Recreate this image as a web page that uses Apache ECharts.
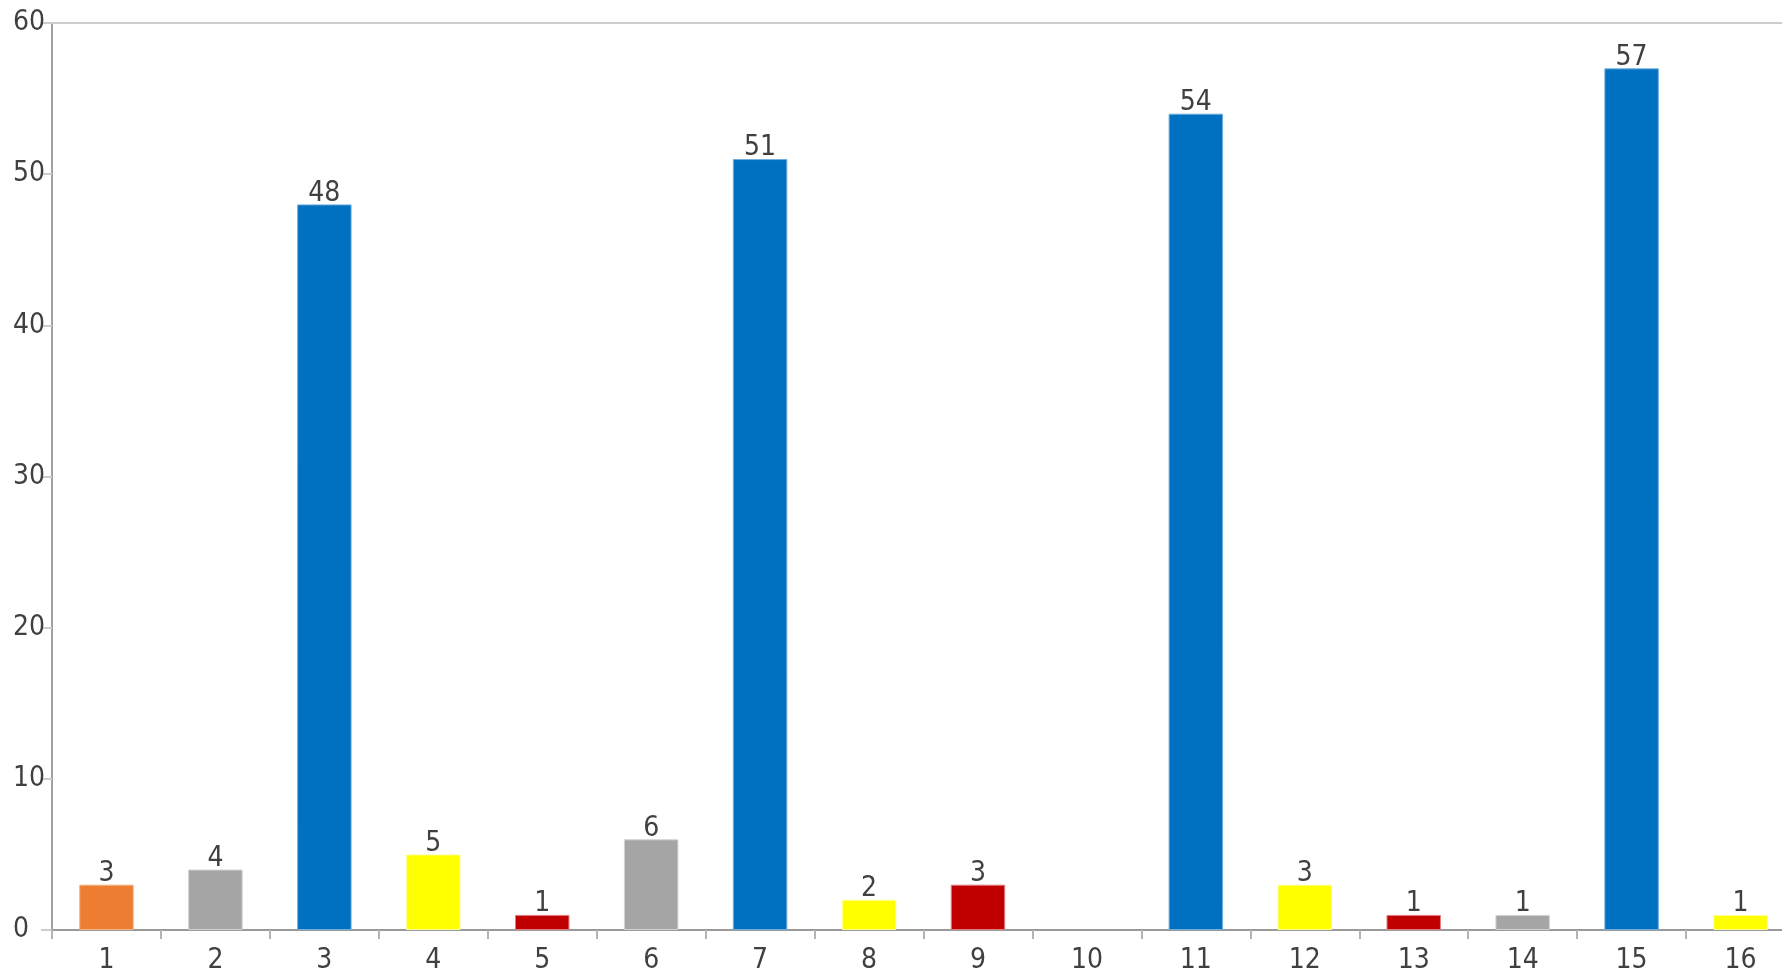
<!DOCTYPE html>
<html>
<head>
<meta charset="utf-8">
<style>
  html, body { margin: 0; padding: 0; background: #ffffff; overflow: hidden; width: 1782px; height: 970px; }
  #frame { width: 1782px; height: 970px; overflow: hidden; position: relative; }
  /* the plot runs a little past the right edge of the frame */
  #chart { width: 1795px; height: 970px; position: absolute; left: 0; top: 0; }
</style>
<script src="https://cdn.jsdelivr.net/npm/echarts@6/dist/echarts.min.js"></script>
</head>
<body>
<div id="frame"><div id="chart"></div></div>
<script>
// Category labels along the bottom axis
const categories = ['1', '2', '3', '4', '5', '6', '7', '8', '9', '10', '11', '12', '13', '14', '15', '16'];
// Bar values (category 10 has no bar)
const values = [3, 4, 48, 5, 1, 6, 51, 2, 3, null, 54, 3, 1, 1, 57, 1];
// Group of each bar, used to pick its colour
const groups = ['orange', 'gray', 'blue', 'yellow', 'red', 'gray', 'blue', 'yellow', 'red', 'none', 'blue', 'yellow', 'red', 'gray', 'blue', 'yellow'];
// Value axis ticks
const yTicks = [0, 10, 20, 30, 40, 50, 60];

const palette = {
  orange: { fill: '#ED7D31', edge: '#F5B48A' },
  gray:   { fill: '#A5A5A5', edge: '#D2D2D2' },
  blue:   { fill: '#0070C0', edge: '#6FAEDF' },
  yellow: { fill: '#FFFF00', edge: '#FFFF99' },
  red:    { fill: '#C00000', edge: '#E08080' },
  none:   { fill: 'transparent', edge: 'transparent' }
};

const font = "'Liberation Sans Narrow', 'DejaVu Sans Condensed', 'Liberation Sans', sans-serif";

const chart = echarts.init(document.getElementById('chart'), null, { renderer: 'canvas' });

chart.setOption({
  animation: false,
  backgroundColor: '#ffffff',
  grid: { left: 52, right: 0, top: 23, bottom: 40, containLabel: false, outerBoundsMode: 'none' },
  xAxis: [{
    type: 'category',
    data: categories,
    position: 'bottom',
    axisLine: { show: true, lineStyle: { color: '#9a9a9a', width: 2 } },
    axisTick: { show: true, length: 9, lineStyle: { color: '#b4b4b4', width: 2 } },
    axisLabel: { color: '#404040', fontFamily: font, fontSize: 28, margin: 17 },
    splitLine: { show: false }
  }, {
    type: 'category',
    data: categories,
    position: 'top',
    axisLine: { show: true, lineStyle: { color: '#cccccc', width: 2 } },
    axisTick: { show: false },
    axisLabel: { show: false },
    splitLine: { show: false }
  }],
  yAxis: {
    type: 'value',
    min: yTicks[0],
    max: yTicks[yTicks.length - 1],
    interval: yTicks[1] - yTicks[0],
    axisLine: { show: true, lineStyle: { color: '#a0a0a0', width: 2 } },
    axisTick: { show: true, length: 11, lineStyle: { color: '#cccccc', width: 2 } },
    axisLabel: { color: '#404040', fontFamily: font, fontSize: 28, align: 'left', margin: 39 },
    splitLine: { show: false }
  },
  series: [{
    type: 'bar',
    xAxisIndex: 0,
    barWidth: '50%',
    data: values.map((v, i) => ({
      value: v,
      itemStyle: {
        color: palette[groups[i]].fill,
        borderColor: palette[groups[i]].edge,
        borderWidth: 1
      }
    })),
    label: {
      show: true,
      position: 'top',
      distance: -3,
      color: '#404040',
      fontFamily: font,
      fontSize: 28,
      formatter: p => (p.value == null ? '' : String(p.value))
    }
  }]
});
</script>
</body>
</html>
